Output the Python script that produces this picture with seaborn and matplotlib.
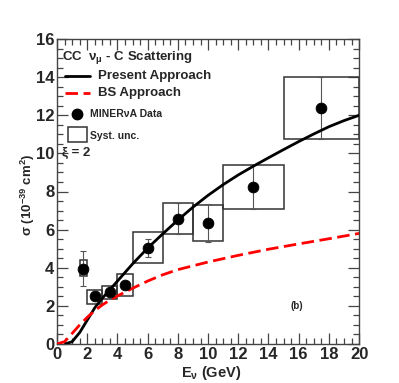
import numpy as np
import pandas as pd
import matplotlib
matplotlib.use("Agg")
import matplotlib.pyplot as plt
from matplotlib.patches import Rectangle
from matplotlib.lines import Line2D
from matplotlib.ticker import MultipleLocator
import seaborn as sns

# MINERvA data points
e_nu = [1.75, 2.5, 3.5, 4.5, 6.0, 8.0, 10.0, 13.0, 17.5]
sigma = [3.95, 2.5, 2.75, 3.1, 5.05, 6.57, 6.33, 8.22, 12.37]
err_lo = [3.04, 2.5, 2.75, 3.1, 4.57, 5.75, 5.35, 7.1, 10.77]
err_hi = [4.88, 2.5, 2.75, 3.1, 5.5, 7.4, 7.35, 9.38, 14.02]
# systematic boxes
box_x0 = [1.5, 2.0, 3.0, 4.0, 5.0, 7.0, 9.0, 11.0, 15.0]
box_x1 = [2.0, 3.0, 4.0, 5.0, 7.0, 9.0, 11.0, 15.0, 20.0]
box_y0 = [3.55, 2.1, 2.38, 2.5, 4.26, 5.75, 5.42, 7.09, 10.77]
box_y1 = [4.38, 2.83, 3.05, 3.67, 5.88, 7.42, 7.28, 9.38, 14.02]

# Present approach curve
pres_x = [0.55, 1.0, 1.5, 2.0, 2.5, 3.0, 3.5, 4.0, 4.5, 5.0, 6.0, 7.0, 8.0, 9.0, 10.0,
          11.0, 12.0, 13.0, 14.0, 15.0, 16.0, 17.0, 18.0, 19.0, 20.0]
pres_y = [0.0, 0.12, 0.6, 1.25, 1.9, 2.4, 2.85, 3.3, 3.75, 4.2, 5.03, 5.78, 6.5, 7.18, 7.8,
          8.36, 8.87, 9.33, 9.77, 10.2, 10.62, 11.02, 11.4, 11.72, 12.0]
# BS approach curve
bs_x = [0.0, 0.5, 1.0, 1.5, 2.0, 2.5, 3.0, 3.5, 4.0, 5.0, 6.0, 7.0, 8.0, 9.0, 10.0,
        12.0, 14.0, 16.0, 18.0, 20.0]
bs_y = [0.0, 0.12, 0.55, 1.0, 1.4, 1.75, 2.05, 2.3, 2.52, 2.92, 3.3, 3.63, 3.9, 4.1, 4.3,
        4.65, 4.97, 5.25, 5.52, 5.8]

sns.set_style("ticks")
plt.rcParams['font.family'] = ['Liberation Sans', 'DejaVu Sans']
plt.rcParams['mathtext.fontset'] = 'custom'
plt.rcParams['mathtext.rm'] = 'Liberation Sans:bold'
plt.rcParams['mathtext.bf'] = 'Liberation Sans:bold'
plt.rcParams['mathtext.it'] = 'Liberation Sans:bold:italic'

fig = plt.figure(figsize=(3.99, 3.83), dpi=100)
ax = fig.add_axes([0.143, 0.102, 0.757, 0.796])

for x0, x1, y0, y1 in zip(box_x0, box_x1, box_y0, box_y1):
    ax.add_patch(Rectangle((x0, y0), x1 - x0, y1 - y0, fill=False,
                           edgecolor='#333333', lw=1.1, zorder=2))
ax.errorbar(e_nu, sigma, yerr=[np.array(sigma) - np.array(err_lo),
                               np.array(err_hi) - np.array(sigma)],
            fmt='none', ecolor='#555555', elinewidth=0.8, capsize=2, capthick=0.8, zorder=3)

df_p = pd.DataFrame({'x': pres_x, 'y': pres_y})
df_b = pd.DataFrame({'x': bs_x, 'y': bs_y})
sns.lineplot(data=df_p, x='x', y='y', ax=ax, color='black', lw=2.0, zorder=4)
sns.lineplot(data=df_b, x='x', y='y', ax=ax, color='red', lw=2.0, zorder=4,
             linestyle=(0, (4.5, 2)))
df_d = pd.DataFrame({'x': e_nu, 'y': sigma})
sns.scatterplot(data=df_d, x='x', y='y', ax=ax, color='black', s=60,
                edgecolor='black', zorder=5)

ax.set_xlim(0, 20)
ax.set_ylim(0, 16)
ax.xaxis.set_major_locator(MultipleLocator(2))
ax.xaxis.set_minor_locator(MultipleLocator(0.5))
ax.yaxis.set_major_locator(MultipleLocator(2))
ax.yaxis.set_minor_locator(MultipleLocator(0.5))
ax.tick_params(which='both', direction='in', top=True, right=True, width=0.9, color='#444444')
ax.tick_params(which='major', length=8, labelsize=12, pad=2)
ax.tick_params(which='minor', length=4)
for lab in ax.get_xticklabels() + ax.get_yticklabels():
    lab.set_fontweight('bold')
for sp in ax.spines.values():
    sp.set_linewidth(1.0)
    sp.set_color('#444444')

ax.set_xlabel('E$_{\\mathrm{ν}}$ (GeV)', fontsize=10.5, fontweight='bold')
ax.set_ylabel('σ (10$^{-39}$ cm$^{2}$)', fontsize=9.5, fontweight='bold')
ax.xaxis.set_label_coords(0.51, -0.065)
ax.yaxis.set_label_coords(-0.065, 0.49)

# legend drawn by hand
tf = ax.transAxes
ax.text(0.017, 0.938, 'CC  ν$_{\\mathrm{μ}}$ - C Scattering', transform=tf, fontsize=9.5,
        fontweight='bold', va='center')
ax.add_line(Line2D([0.026, 0.109], [0.880, 0.880], transform=tf, color='black', lw=2))
ax.text(0.136, 0.880, 'Present Approach', transform=tf, fontsize=9.5, fontweight='bold', va='center')
ax.add_line(Line2D([0.026, 0.109], [0.822, 0.822], transform=tf, color='red', lw=2,
                   linestyle=(0, (4.5, 2))))
ax.text(0.136, 0.822, 'BS Approach', transform=tf, fontsize=9.5, fontweight='bold', va='center')
ax.plot([0.065], [0.754], 'o', transform=tf, color='black', ms=7.5)
ax.text(0.109, 0.754, 'MINERνA Data', transform=tf, fontsize=7.5, fontweight='bold', va='center')
ax.add_patch(Rectangle((0.035, 0.664), 0.063, 0.047, transform=tf, fill=False,
                       edgecolor='#333333', lw=1.1))
ax.text(0.109, 0.683, 'Syst. unc.', transform=tf, fontsize=7.5, fontweight='bold', va='center')
ax.text(0.017, 0.627, 'ξ = 2', transform=tf, fontsize=9.5, fontweight='bold', va='center')
ax.text(0.795, 0.125, '(b)', transform=tf, fontsize=7, fontweight='bold', va='center', ha='center')

fig.savefig('out.png', dpi=100)
